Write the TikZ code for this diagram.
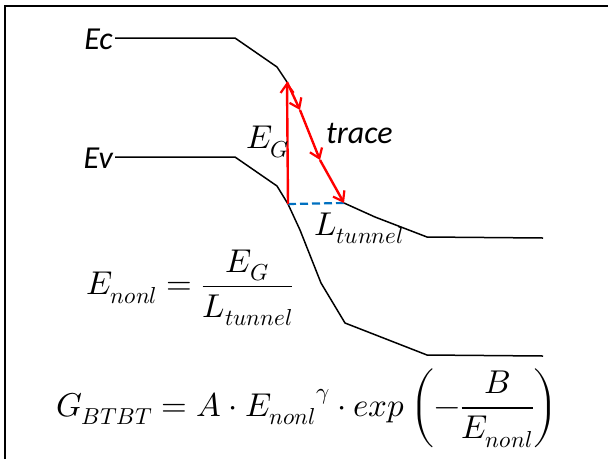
\documentclass[tikz,border=0pt]{standalone}
\usepackage{amsmath}
\usepackage{fontspec}
\usepackage{unicode-math}
\newfontfamily\calfont{Carlito}[ItalicFont={Carlito Italic}]
\usetikzlibrary{arrows.meta}
\tikzset{
  band/.style={line width=1.5pt, line join=round},
  redarrow/.style={draw=red, line width=2.4pt, -{Straight Barb[length=9pt,width=13pt,line width=2.2pt]}},
  tunnel/.style={draw={rgb,255:red,0;green,112;blue,192}, line width=2.2pt, dash pattern=on 8pt off 4pt},
  lbl/.style={font=\fontsize{32}{36}\selectfont\calfont\itshape, inner sep=0pt},
  mth/.style={font=\fontsize{33}{38}\selectfont, inner sep=0pt}
}
\begin{document}
\begin{tikzpicture}[x=1pt,y=-1pt]
\useasboundingbox (0,0) rectangle (608,459);
\draw[line width=2pt] (4.5,459) -- (4.5,5.5) -- (608,5.5);
% conduction band
\coordinate (c0) at (115,38);
\coordinate (c1) at (235,38);
\coordinate (c2) at (277,67);
\coordinate (c3) at (287,82);
\coordinate (t0) at (344,203);
\coordinate (t1) at (375,217);
\coordinate (t2) at (427,237);
\coordinate (t3) at (543,238);
% valence band
\coordinate (v0) at (115,157);
\coordinate (v1) at (235,157);
\coordinate (v2) at (277,186);
\coordinate (v3) at (288,204);
\coordinate (v4) at (300,230);
\coordinate (v5) at (321,283);
\coordinate (v6) at (345,323);
\coordinate (v7) at (427,355);
\coordinate (v8) at (543,356);
% trace points
\coordinate (m1) at (300,110);
\coordinate (m2) at (320,160);

\draw[band] (c0) -- (c1) -- (c2) -- (c3);
\draw[band] (t0) -- (t1) -- (t2) -- (t3);
\draw[band] (v0) -- (v1) -- (v2) -- (v3) -- (v4) -- (v5) -- (v6) -- (v7) -- (v8);

\draw[tunnel] (v3) -- (t0);
\draw[redarrow] (v3) -- (c3);
\draw[redarrow] (c3) -- (m1);
\draw[redarrow] (m1) -- (m2);
\draw[redarrow] (m2) -- (t0);

\node[lbl, anchor=east] (ec) at (113,39) {Ec};
\node[lbl, anchor=east] (ev) at (113,158) {Ev};
\node[lbl, anchor=west] (tr) at (326,133) {trace};
\node[mth] (eg) at (268,142) {$E_G$};
\node[mth] (lt) at (359,228) {$L_{tunnel}$};
\node[mth] (en) at (190,288) {$E_{nonl}=\dfrac{E_G}{L_{tunnel}}$};
\node[mth] (gb) at (307,408) {$G_{BTBT}=A\cdot {E_{nonl}}^{\gamma}\cdot exp\left(-\dfrac{B}{E_{nonl}}\right)$};
\end{tikzpicture}
\end{document}
